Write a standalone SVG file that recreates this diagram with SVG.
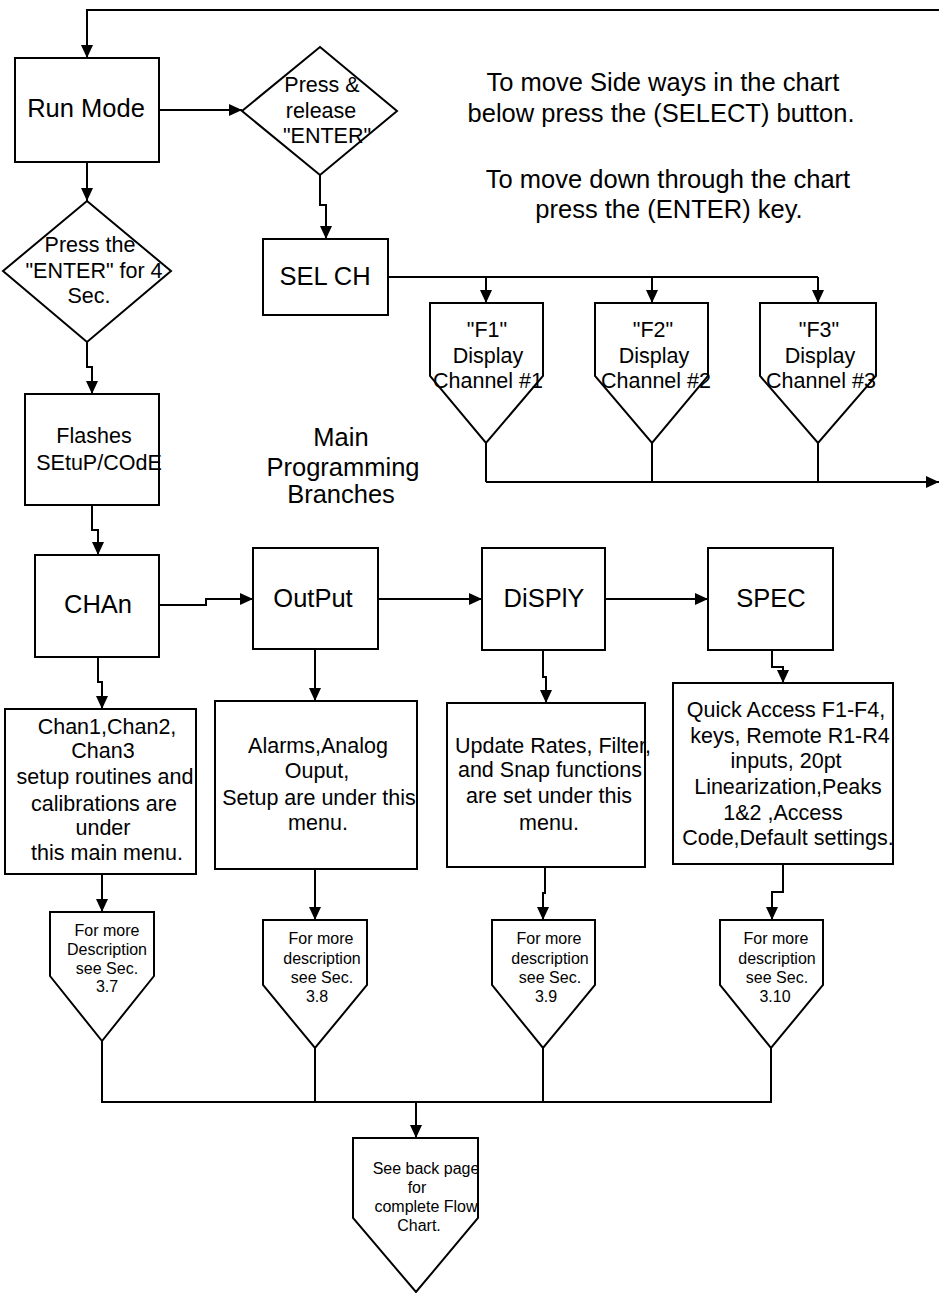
<svg xmlns="http://www.w3.org/2000/svg" width="939" height="1293" viewBox="0 0 939 1293">
<defs>
<style>
.box{fill:#fff;stroke:#000;stroke-width:2}
.ln{fill:none;stroke:#000;stroke-width:2}
text{font-family:"Liberation Sans",Arial,Helvetica,sans-serif;fill:#000;text-anchor:middle}
.big{font-size:25.5px}
.mid{font-size:21.5px}
.sm{font-size:16px}
</style>
<marker id="ah" markerWidth="13" markerHeight="12" refX="13" refY="6" orient="auto" markerUnits="userSpaceOnUse"><path d="M0,0 L13,6 L0,12 z" fill="#000"/></marker>
</defs>
<rect width="939" height="1293" fill="#fff"/>

<g id="connectors">
<path class="ln" d="M939,10 H87 V58" marker-end="url(#ah)"/>
<path class="ln" d="M159,110 H242" marker-end="url(#ah)"/>
<path class="ln" d="M320,175 V205 H326 V239" marker-end="url(#ah)"/>
<path class="ln" d="M388,277 H818"/>
<path class="ln" d="M486,277 V303" marker-end="url(#ah)"/>
<path class="ln" d="M652,277 V303" marker-end="url(#ah)"/>
<path class="ln" d="M818,277 V303" marker-end="url(#ah)"/>
<path class="ln" d="M486,443 V482 M652,443 V482 M818,443 V482"/>
<path class="ln" d="M486,482 H939" marker-end="url(#ah)"/>
<path class="ln" d="M87,162 V201" marker-end="url(#ah)"/>
<path class="ln" d="M87,342 V367 H92 V394" marker-end="url(#ah)"/>
<path class="ln" d="M92,505 V530 H98 V555" marker-end="url(#ah)"/>
<path class="ln" d="M159,605 H206 V599 H253" marker-end="url(#ah)"/>
<path class="ln" d="M378,599 H482" marker-end="url(#ah)"/>
<path class="ln" d="M605,599 H708" marker-end="url(#ah)"/>
<path class="ln" d="M98,657 V682 H102 V709" marker-end="url(#ah)"/>
<path class="ln" d="M315,649 V701" marker-end="url(#ah)"/>
<path class="ln" d="M543,650 V677 H546 V703" marker-end="url(#ah)"/>
<path class="ln" d="M772,650 V667 H783 V683" marker-end="url(#ah)"/>
<path class="ln" d="M102,874 V912" marker-end="url(#ah)"/>
<path class="ln" d="M315,869 V920" marker-end="url(#ah)"/>
<path class="ln" d="M545,867 V893 H543 V920" marker-end="url(#ah)"/>
<path class="ln" d="M783,864 V892 H772 V920" marker-end="url(#ah)"/>
<path class="ln" d="M102,1041 V1102 H771 V1048 M315,1048 V1102 M543,1048 V1102"/>
<path class="ln" d="M416,1102 V1138" marker-end="url(#ah)"/>
</g>

<g id="note">
<text class="big" x="663" y="91">To move Side ways in the chart</text>
<text class="big" x="661" y="122">below press the (SELECT) button.</text>
<text class="big" x="668" y="188">To move down through the chart</text>
<text class="big" x="669" y="218">press the (ENTER) key.</text>
</g>

<g id="main-label">
<text class="big" x="341" y="446">Main</text>
<text class="big" x="343" y="476">Programming</text>
<text class="big" x="341" y="503">Branches</text>
</g>

<g id="run-mode">
<rect class="box" x="15" y="58" width="144" height="104"/>
<text class="big" x="86" y="117">Run Mode</text>
</g>

<g id="press-release">
<polygon class="box" points="320,47 397,111 320,175 242,111"/>
<text class="mid" x="322" y="92">Press &amp;</text>
<text class="mid" x="321" y="118">release</text>
<text class="mid" x="327" y="143">"ENTER"</text>
</g>

<g id="sel-ch">
<rect class="box" x="263" y="239" width="125" height="76"/>
<text class="big" x="325" y="285">SEL CH</text>
</g>

<g id="f1">
<polygon class="box" points="430,303 543,303 543,376 486,443 430,376"/>
<text class="mid" x="487" y="337">"F1"</text>
<text class="mid" x="488" y="363">Display</text>
<text class="mid" x="488" y="388">Channel #1</text>
</g>
<g id="f2">
<polygon class="box" points="595,303 708,303 708,376 652,443 595,376"/>
<text class="mid" x="653" y="337">"F2"</text>
<text class="mid" x="654" y="363">Display</text>
<text class="mid" x="656" y="388">Channel #2</text>
</g>
<g id="f3">
<polygon class="box" points="760,303 876,303 876,376 818,443 760,376"/>
<text class="mid" x="819" y="337">"F3"</text>
<text class="mid" x="820" y="363">Display</text>
<text class="mid" x="821" y="388">Channel #3</text>
</g>

<g id="press-enter-4">
<polygon class="box" points="87,201 171,271 87,342 3,271"/>
<text class="mid" x="90" y="252">Press the</text>
<text class="mid" x="94" y="278">"ENTER" for 4</text>
<text class="mid" x="89" y="303">Sec.</text>
</g>

<g id="flashes">
<rect class="box" x="25" y="394" width="134" height="111"/>
<text class="mid" x="94" y="443">Flashes</text>
<text class="mid" x="99" y="470">SEtuP/COdE</text>
</g>

<g id="chan">
<rect class="box" x="35" y="555" width="124" height="102"/>
<text class="big" x="98" y="613">CHAn</text>
</g>
<g id="output">
<rect class="box" x="253" y="548" width="125" height="101"/>
<text class="big" x="313" y="607">OutPut</text>
</g>
<g id="display">
<rect class="box" x="482" y="548" width="123" height="102"/>
<text class="big" x="544" y="607">DiSPlY</text>
</g>
<g id="spec">
<rect class="box" x="708" y="548" width="125" height="102"/>
<text class="big" x="771" y="607">SPEC</text>
</g>

<g id="chan-desc">
<rect class="box" x="5" y="709" width="191" height="165"/>
<text class="mid" x="107" y="734">Chan1,Chan2,</text>
<text class="mid" x="103" y="758">Chan3</text>
<text class="mid" x="105" y="784">setup routines and</text>
<text class="mid" x="104" y="811">calibrations are</text>
<text class="mid" x="103" y="835">under</text>
<text class="mid" x="107" y="860">this main menu.</text>
</g>
<g id="output-desc">
<rect class="box" x="215" y="701" width="202" height="168"/>
<text class="mid" x="318" y="753">Alarms,Analog</text>
<text class="mid" x="317" y="778">Ouput,</text>
<text class="mid" x="319" y="805">Setup are under this</text>
<text class="mid" x="318" y="830">menu.</text>
</g>
<g id="display-desc">
<rect class="box" x="447" y="703" width="198" height="164"/>
<text class="mid" x="553" y="753">Update Rates, Filter,</text>
<text class="mid" x="550" y="777">and Snap functions</text>
<text class="mid" x="549" y="803">are set under this</text>
<text class="mid" x="549" y="830">menu.</text>
</g>
<g id="spec-desc">
<rect class="box" x="673" y="683" width="220" height="181"/>
<text class="mid" x="786" y="717">Quick Access F1-F4,</text>
<text class="mid" x="790" y="743">keys, Remote R1-R4</text>
<text class="mid" x="786" y="768">inputs, 20pt</text>
<text class="mid" x="788" y="794">Linearization,Peaks</text>
<text class="mid" x="783" y="820">1&amp;2 ,Access</text>
<text class="mid" x="788" y="845">Code,Default settings.</text>
</g>

<g id="sec37">
<polygon class="box" points="50,912 154,912 154,976 102,1041 50,976"/>
<text class="sm" x="107" y="936">For more</text>
<text class="sm" x="107" y="955">Description</text>
<text class="sm" x="107" y="974">see Sec.</text>
<text class="sm" x="107" y="992">3.7</text>
</g>
<g id="sec38">
<polygon class="box" points="263,920 367,920 367,985 315,1048 263,985"/>
<text class="sm" x="321" y="944">For more</text>
<text class="sm" x="322" y="964">description</text>
<text class="sm" x="322" y="983">see Sec.</text>
<text class="sm" x="317" y="1002">3.8</text>
</g>
<g id="sec39">
<polygon class="box" points="492,920 595,920 595,985 543,1048 492,985"/>
<text class="sm" x="549" y="944">For more</text>
<text class="sm" x="550" y="964">description</text>
<text class="sm" x="550" y="983">see Sec.</text>
<text class="sm" x="546" y="1002">3.9</text>
</g>
<g id="sec310">
<polygon class="box" points="720,920 823,920 823,985 771,1048 720,985"/>
<text class="sm" x="776" y="944">For more</text>
<text class="sm" x="777" y="964">description</text>
<text class="sm" x="777" y="983">see Sec.</text>
<text class="sm" x="775" y="1002">3.10</text>
</g>

<g id="back-page">
<polygon class="box" points="353,1138 478,1138 478,1218 416,1292 353,1218"/>
<text class="sm" x="426" y="1174">See back page</text>
<text class="sm" x="417" y="1193">for</text>
<text class="sm" x="426" y="1212">complete Flow</text>
<text class="sm" x="419" y="1231">Chart.</text>
</g>
</svg>
